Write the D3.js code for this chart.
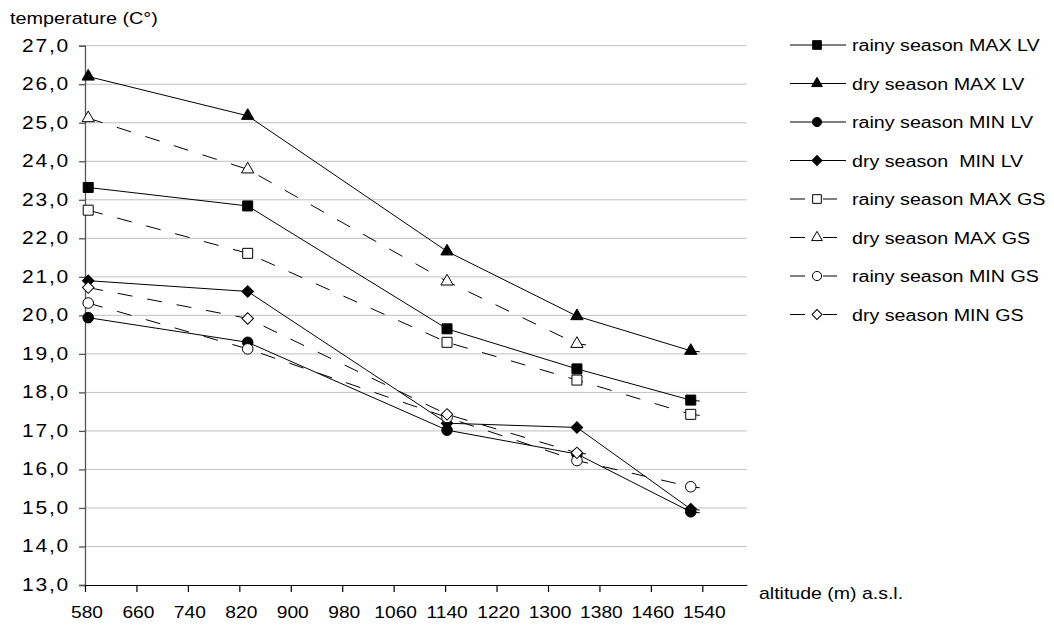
<!DOCTYPE html>
<html>
<head>
<meta charset="utf-8">
<script src="https://cdn.jsdelivr.net/npm/d3@7"></script>
<style>
  body { margin: 0; background: #fff; }
  text { font-family: "Liberation Sans", Arial, sans-serif; fill: #000; }
</style>
</head>
<body>
<svg id="chart" width="1054" height="626"></svg>
<script>
// altitude of the stations (m a.s.l.)
const altitude = [585, 833, 1143, 1345, 1522];

const rainyMaxLV = [23.32, 22.84, 19.65, 18.61, 17.80];
const dryMaxLV   = [26.20, 25.18, 21.66, 19.98, 19.08];
const rainyMinLV = [19.94, 19.30, 17.02, 16.40, 14.90];
const dryMinLV   = [20.90, 20.62, 17.20, 17.09, 14.97];
const rainyMaxGS = [22.73, 21.61, 19.30, 18.32, 17.43];
const dryMaxGS   = [25.12, 23.79, 20.88, 19.26, null];
const rainyMinGS = [20.32, 19.13, 17.35, 16.23, 15.55];
const dryMinGS   = [20.72, 19.92, 17.43, 16.43, null];

const seriesNames = [
  "rainy season MAX LV", "dry season MAX LV", "rainy season MIN LV", "dry season  MIN LV",
  "rainy season MAX GS", "dry season MAX GS", "rainy season MIN GS", "dry season MIN GS"
];
const seriesValues = [rainyMaxLV, dryMaxLV, rainyMinLV, dryMinLV, rainyMaxGS, dryMaxGS, rainyMinGS, dryMinGS];
const markerShapes = ["square", "triangle", "circle", "diamond", "square", "triangle", "circle", "diamond"];
const filled = [true, true, true, true, false, false, false, false];

const xTicks = d3.range(580, 1541, 80);
const yTicks = d3.range(13, 27.01, 1);

const svg = d3.select("#chart");
const x = d3.scaleLinear().domain([580, 1609]).range([85, 746.7]);
const y = d3.scaleLinear().domain([13, 27]).range([585, 45.7]);

// stretched text, like the reference
function label(g, px, py, str, anchor, size, sx, spacing) {
  g.append("g")
    .attr("transform", `translate(${px},${py}) scale(${sx},1)`)
    .append("text")
    .attr("text-anchor", anchor)
    .style("font-size", size + "px")
    .style("letter-spacing", (spacing || 0) + "px")
    .style("white-space", "pre")
    .text(str);
}

// grid
svg.append("g").selectAll("line")
  .data(yTicks.filter(d => d > 13))
  .enter().append("line")
  .attr("x1", x(580)).attr("x2", x(1609))
  .attr("y1", d => y(d)).attr("y2", d => y(d))
  .attr("stroke", "#c0c0c0").attr("stroke-width", 1);

// axes
const yAxis = svg.append("g").attr("transform", `translate(${x(580)},0)`)
  .call(d3.axisLeft(y).tickValues(yTicks).tickSize(6).tickFormat(""));
yAxis.selectAll("line, path").attr("stroke", "#555").attr("stroke-width", 1.3);

const xAxis = svg.append("g").attr("transform", `translate(0,${y(13)})`)
  .call(d3.axisBottom(x).tickValues(xTicks).tickSize(7).tickSizeOuter(0).tickFormat(""));
xAxis.selectAll("line, path").attr("stroke", "#000").attr("stroke-width", 1.2);

const fmt = d => d.toFixed(1).replace(".", ",");
const tl = svg.append("g");
yTicks.forEach(v => label(tl, 70, y(v) + 6, fmt(v), "end", 17.5, 1.2, 1.5));
xTicks.forEach(v => label(tl, x(v) + 2, 618, String(v), "middle", 17, 1.13));

label(svg, 10, 24, "temperature (C°)", "start", 16, 1.24);
label(svg, 759, 599, "altitude (m) a.s.l.", "start", 16, 1.22);

function symbolPath(shape, big) {
  const k = big ? 1 : 0.75;
  if (shape === "square") return d3.symbol(d3.symbolSquare, 100 * k)();
  if (shape === "triangle") return d3.symbol(d3.symbolTriangle, 66 * k)();
  if (shape === "circle") return d3.symbol(d3.symbolCircle, 88 * k)();
  return d3.symbol(d3.symbolSquare, 66 * k)();
}

const line = d3.line()
  .defined(d => d[1] != null)
  .x(d => x(d[0])).y(d => y(d[1]));

const plot = svg.append("g");
seriesValues.forEach((vals, i) => {
  const pts = altitude.map((a, j) => [a, vals[j]]).filter(p => p[1] != null);
  const g = plot.append("g");
  g.append("path")
    .datum(pts)
    .attr("d", line)
    .attr("fill", "none")
    .attr("stroke", "#000")
    .attr("stroke-width", 1)
    .attr("stroke-dasharray", filled[i] ? null : "15,15");
  // short tail after the last point
  const last = pts[pts.length - 1];
  g.append("line")
    .attr("x1", x(last[0])).attr("x2", x(last[0]) + 9)
    .attr("y1", y(last[1])).attr("y2", y(last[1]) + 1)
    .attr("stroke", "#000");
  g.selectAll("path.m")
    .data(pts)
    .enter().append("path")
    .attr("class", "m")
    .attr("d", symbolPath(markerShapes[i], true))
    .attr("transform", d => `translate(${x(d[0])},${y(d[1])})` + (markerShapes[i] === "diamond" ? " rotate(45)" : ""))
    .attr("fill", filled[i] ? "#000" : "#fff")
    .attr("stroke", "#000")
    .attr("stroke-width", 1);
});

// legend
const legend = svg.append("g");
seriesNames.forEach((name, i) => {
  const ly = 45 + i * 38.5;
  const row = legend.append("g");
  if (filled[i]) {
    row.append("line").attr("x1", 790).attr("x2", 846).attr("y1", ly).attr("y2", ly)
      .attr("stroke", "#000");
  } else {
    row.append("line").attr("x1", 790).attr("x2", 805).attr("y1", ly).attr("y2", ly).attr("stroke", "#000");
    row.append("line").attr("x1", 823).attr("x2", 837).attr("y1", ly).attr("y2", ly).attr("stroke", "#000");
  }
  row.append("path")
    .attr("d", symbolPath(markerShapes[i], false))
    .attr("transform", `translate(817,${ly})` + (markerShapes[i] === "diamond" ? " rotate(45)" : ""))
    .attr("fill", filled[i] ? "#000" : "#fff")
    .attr("stroke", "#000");
  label(row, 852, ly + 6, name, "start", 16, 1.23);
});
</script>
</body>
</html>
